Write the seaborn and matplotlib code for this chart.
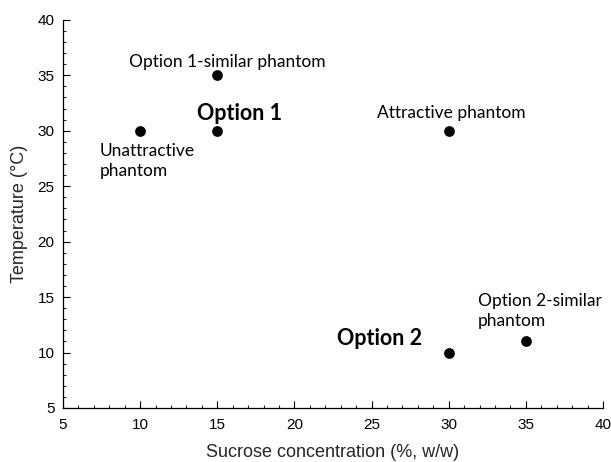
import matplotlib
matplotlib.use("Agg")
import matplotlib.pyplot as plt
import seaborn as sns
import pandas as pd
from matplotlib.ticker import MultipleLocator

# Phantom designs: sucrose concentration vs. temperature
sucrose = [10, 15, 15, 30, 30, 35]
temperature = [30, 30, 35, 30, 10, 11]
names = ["Unattractive phantom", "Option 1", "Option 1-similar phantom",
         "Attractive phantom", "Option 2", "Option 2-similar phantom"]

df = pd.DataFrame({"sucrose": sucrose, "temperature": temperature, "name": names})

sns.set_style("ticks")
plt.rcParams["font.family"] = ["Liberation Sans", "DejaVu Sans"]

fig = plt.figure(figsize=(6.11, 4.62), dpi=100)
ax = fig.add_axes([0.103, 0.117, 0.884, 0.84])

sns.scatterplot(data=df, x="sucrose", y="temperature", ax=ax,
                color="black", s=60, edgecolor="black", linewidth=0, zorder=3)

ax.set_xlim(5, 40)
ax.set_ylim(5, 40)
ax.xaxis.set_major_locator(MultipleLocator(5))
ax.yaxis.set_major_locator(MultipleLocator(5))
ax.xaxis.set_minor_locator(MultipleLocator(1))
ax.yaxis.set_minor_locator(MultipleLocator(1))
ax.tick_params(which="major", direction="in", length=5, width=0.8,
               labelsize=11, colors="black")
ax.tick_params(axis="x", which="major", pad=7)
ax.tick_params(axis="y", which="major", pad=6)
ax.tick_params(which="minor", direction="in", length=2.5, width=0.8)
sns.despine(ax=ax)
for sp in ("left", "bottom"):
    ax.spines[sp].set_linewidth(0.9)
    ax.spines[sp].set_color("black")

ax.set_xlabel("Sucrose concentration (%, w/w)", fontsize=13, labelpad=9)
ax.set_ylabel("Temperature (\u00b0C)", fontsize=13, labelpad=7)

lab = dict(family=["Lato", "DejaVu Sans"], fontsize=12.5, color="black")
bold = dict(family=["Lato", "DejaVu Sans"], fontsize=15.5, fontweight="bold", color="black")

ax.text(15.63, 36.2, "Option 1-similar phantom", ha="center", va="center", **lab)
ax.text(16.47, 31.6, "Option 1", ha="center", va="center", **bold)
ax.text(7.4, 27.3, "Unattractive\nphantom", ha="left", va="center", linespacing=1.3, **lab)
ax.text(30.15, 31.6, "Attractive phantom", ha="center", va="center", **lab)
ax.text(28.27, 11.3, "Option 2", ha="right", va="center", **bold)
ax.text(31.9, 13.75, "Option 2-similar\nphantom", ha="left", va="center", linespacing=1.3, **lab)

fig.savefig("out.png", dpi=100)
